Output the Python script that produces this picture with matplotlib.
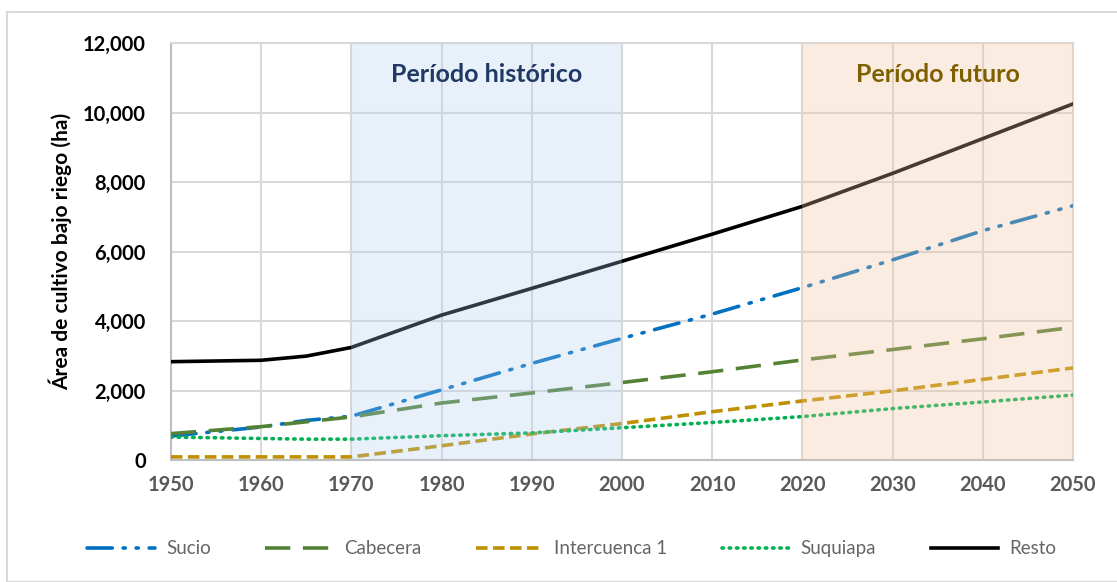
import matplotlib
matplotlib.use("Agg")
import matplotlib.pyplot as plt
from matplotlib.patches import Rectangle
from matplotlib.ticker import FuncFormatter, MultipleLocator

years = [1950, 1960, 1965, 1970, 1980, 1990, 2000, 2010, 2020, 2030, 2040, 2050]
sucio = [690, 950, 1140, 1260, 2020, 2780, 3500, 4200, 4960, 5760, 6600, 7320]
cabecera = [760, 960, 1100, 1240, 1640, 1930, 2230, 2540, 2880, 3180, 3490, 3820]
intercuenca = [90, 90, 90, 90, 410, 750, 1050, 1390, 1700, 1990, 2320, 2650]
suquiapa = [660, 620, 600, 600, 700, 780, 930, 1080, 1250, 1480, 1670, 1870]
resto = [2830, 2870, 2990, 3240, 4170, 4940, 5720, 6500, 7300, 8250, 9250, 10250]

series_names = ["Sucio", "Cabecera", "Intercuenca 1", "Suquiapa", "Resto"]
periods = [(1970, 2000, "Período histórico"), (2020, 2050, "Período futuro")]

plt.rcParams['font.family'] = ['Lato', 'DejaVu Sans']

fig = plt.figure(figsize=(11.17, 5.82), dpi=100)
ax = fig.add_axes([0.153, 0.2096, 0.8076, 0.7164])

# outer frame
fig.patches.append(Rectangle((7/1117, 0.0), 1.0, 1 - 12/582, transform=fig.transFigure,
                             fill=False, edgecolor='#D9D9D9', linewidth=1.5, zorder=0))

lw = 2.6
ax.plot(years, sucio, color='#0070C0', lw=lw, dashes=(7, 3, 0.6, 3, 0.6, 3),
        dash_capstyle='round', solid_capstyle='round', label=series_names[0], zorder=3)
ax.plot(years, cabecera, color='#548235', lw=lw, dashes=(7, 3.5), label=series_names[1], zorder=3)
ax.plot(years, intercuenca, color='#BF9000', lw=lw, dashes=(3.2, 1.5), label=series_names[2], zorder=3)
ax.plot(years, suquiapa, color='#00B050', lw=lw, dashes=(0.4, 1.6), dash_capstyle='round',
        label=series_names[3], zorder=3)
ax.plot(years, resto, color='#000000', lw=lw, label=series_names[4], zorder=3)

# shaded periods overlaid (tints the lines as in the reference)
ax.axvspan(periods[0][0], periods[0][1], color='#AECDF0', alpha=0.28, lw=0, zorder=4)
ax.axvspan(periods[1][0], periods[1][1], color='#F5C3A0', alpha=0.30, lw=0, zorder=4)

ax.text((periods[0][0] + periods[0][1]) / 2, 11100, periods[0][2], ha='center', va='center',
        fontsize=18, fontweight='bold', color='#1F3864', zorder=5)
ax.text((periods[1][0] + periods[1][1]) / 2, 11100, periods[1][2], ha='center', va='center',
        fontsize=18, fontweight='bold', color='#7F6000', zorder=5)

ax.set_xlim(1950, 2050)
ax.set_ylim(0, 12000)
ax.xaxis.set_major_locator(MultipleLocator(10))
ax.yaxis.set_major_locator(MultipleLocator(2000))
ax.yaxis.set_major_formatter(FuncFormatter(lambda v, p: f"{int(v):,}"))
ax.grid(True, color='#D9D9D9', lw=1.5, zorder=1)
ax.set_axisbelow(True)
for s in ['top', 'right']:
    ax.spines[s].set_color('#D9D9D9')
    ax.spines[s].set_linewidth(1.5)
for s in ['left', 'bottom']:
    ax.spines[s].set_color('#BFBFBF')
    ax.spines[s].set_linewidth(1.5)
ax.tick_params(length=0)
ax.tick_params(axis='y', pad=18)
ax.tick_params(axis='x', pad=11)
for t in ax.get_yticklabels():
    t.set_fontsize(14.5)
    t.set_fontweight('bold')
    t.set_color('#000000')
for t in ax.get_xticklabels():
    t.set_fontsize(14.5)
    t.set_fontweight('bold')
    t.set_color('#595959')
ax.set_ylabel("Área de cultivo bajo riego (ha)", fontsize=15, fontweight='bold', labelpad=8)

leg = fig.legend(loc='center', bbox_to_anchor=(0.512, 0.057), ncol=5, frameon=False,
                 fontsize=13.5, handlelength=3.6, columnspacing=2.9, handletextpad=0.6)
for t in leg.get_texts():
    t.set_color('#666666')

fig.savefig('out.png', dpi=100)
